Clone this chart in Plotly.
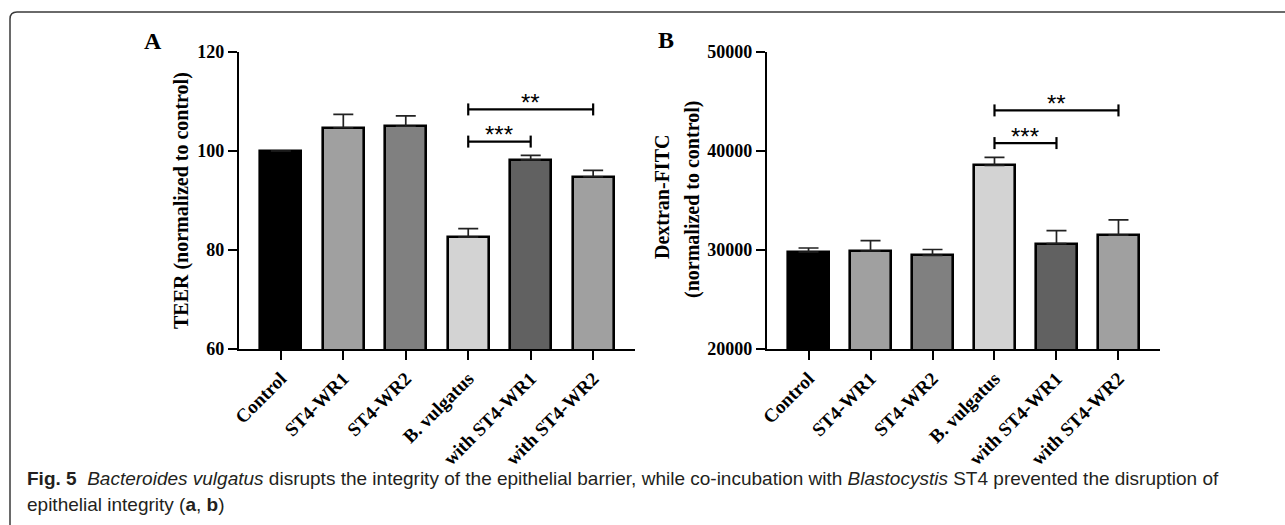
import plotly.graph_objects as go

categories = ["Control", "ST4-WR1", "ST4-WR2", "B. vulgatus", "with ST4-WR1", "with ST4-WR2"]
teer_mean = [100.0, 104.7, 105.0, 82.6, 98.2, 94.8]
teer_err = [0.0, 2.7, 2.1, 1.7, 0.9, 1.3]
fitc_mean = [29800, 29900, 29450, 38550, 30650, 31500]
fitc_err = [400, 1050, 600, 800, 1300, 1550]
bar_colors = ["#000000", "#a0a0a0", "#808080", "#d3d3d3", "#616161", "#a0a0a0"]
teer_ticks = [60, 80, 100, 120]
fitc_ticks = [20000, 30000, 40000, 50000]
teer_sig = [(3, 4, 101.9, "***"), (3, 5, 108.4, "**")]
fitc_sig = [(3, 4, 40800, "***"), (3, 5, 44100, "**")]

W, H = 1285, 525
SERIF = "Liberation Serif, Times New Roman, serif"
CAPFONT = "Liberation Sans Narrow, Arial Narrow, Liberation Sans, sans-serif"

def px_x(p):
    return p / W

def px_y(p):
    return 1 - p / H

xpos = list(range(len(categories)))

fig = go.Figure()

panels = [
    ("x", "y", teer_mean, teer_err),
    ("x2", "y2", fitc_mean, fitc_err),
]
for xa, ya, means, errs in panels:
    fig.add_trace(go.Bar(
        x=xpos, y=means, xaxis=xa, yaxis=ya,
        width=0.66,
        marker=dict(color=bar_colors, line=dict(color="#000000", width=2.6)),
        error_y=dict(type="data", array=errs, arrayminus=[0] * len(errs), symmetric=False,
                     color="#222222", thickness=1.7, width=10),
        showlegend=False,
    ))

xrange = [-0.67, len(categories) - 1 + 0.67]
common_x = dict(range=xrange, tickvals=xpos, ticktext=[f"<b>{c}</b>" for c in categories],
                tickangle=-45, automargin=False,
                showline=True, linecolor="#000000", linewidth=2.2,
                ticks="outside", ticklen=9, tickwidth=2.2, tickcolor="#000000",
                showgrid=False, zeroline=False,
                tickfont=dict(family=SERIF, size=19, color="#000000"))
common_y = dict(showline=True, linecolor="#000000", linewidth=2.2, automargin=False,
                ticks="outside", ticklen=9, tickwidth=2.2, tickcolor="#000000",
                showgrid=False, zeroline=False,
                tickfont=dict(family=SERIF, size=18, color="#000000"))

yd = [px_y(349), px_y(52)]
fig.update_layout(
    width=W, height=H,
    margin=dict(l=0, r=0, t=0, b=0, pad=0, autoexpand=False),
    paper_bgcolor="white", plot_bgcolor="white",
    bargap=0,
    xaxis=dict(domain=[px_x(239), px_x(635)], anchor="y", **common_x),
    yaxis=dict(domain=yd, anchor="x", range=[teer_ticks[0], teer_ticks[-1]],
               tickvals=teer_ticks, ticktext=[f"<b>{v}</b>" for v in teer_ticks], **common_y),
    xaxis2=dict(domain=[px_x(767), px_x(1160)], anchor="y2", **common_x),
    yaxis2=dict(domain=yd, anchor="x2", range=[fitc_ticks[0], fitc_ticks[-1]],
                tickvals=fitc_ticks, ticktext=[f"<b>{v}</b>" for v in fitc_ticks], **common_y),
)

shapes = []
annotations = []
for xr, yr, sig in [("x", "y", teer_sig), ("x2", "y2", fitc_sig)]:
    for i0, i1, level, label in sig:
        shapes.append(dict(type="line", xref=xr, yref=yr, x0=i0, x1=i1, y0=level, y1=level,
                           line=dict(color="#000000", width=2.2)))
        for xi in (i0, i1):
            shapes.append(dict(type="line", xref=xr, yref=yr, x0=xi, x1=xi,
                               ysizemode="pixel", yanchor=level, y0=-6, y1=6,
                               line=dict(color="#000000", width=2.2)))
        annotations.append(dict(x=(i0 + i1) / 2, y=level, xref=xr, yref=yr, text=label,
                                showarrow=False, xanchor="center", yanchor="middle", yshift=7,
                                font=dict(family="Liberation Sans, Arial, sans-serif",
                                          size=24, color="#000000")))

# frame
shapes.append(dict(type="path", xref="paper", yref="paper",
                   path=f"M {px_x(10)},{px_y(525)} L {px_x(10)},{px_y(19)} "
                        f"Q {px_x(10)},{px_y(12)} {px_x(17)},{px_y(12)} L {px_x(1285)},{px_y(12)}",
                   line=dict(color="#3a3a3a", width=1.5)))

def pann(x, y, text, size, **kw):
    d = dict(x=px_x(x), y=px_y(y), xref="paper", yref="paper", text=text, showarrow=False,
             xanchor="center", yanchor="middle",
             font=dict(family=SERIF, size=size, color="#000000"))
    d.update(kw)
    return d

# panel letters
annotations.append(pann(153, 41, "<b>A</b>", 24))
annotations.append(pann(666, 40, "<b>B</b>", 24))
# axis titles
annotations.append(pann(182, 201, "<b>TEER (normalized to control)</b>", 20, textangle=-90))
annotations.append(pann(662, 197, "<b>Dextran-FITC</b>", 20, textangle=-90))
annotations.append(pann(692, 200, "<b>(normalized to control)</b>", 20, textangle=-90))
# caption
capfont = dict(family=CAPFONT, size=19, color="#231f20")
annotations.append(pann(25, 478,
                        "<b>Fig. 5</b>  <i>Bacteroides vulgatus</i> disrupts the integrity of the epithelial "
                        "barrier, while co-incubation with <i>Blastocystis</i> ST4 prevented the disruption of",
                        18, xanchor="left", font=capfont))
annotations.append(pann(25, 504, "epithelial integrity (<b>a</b>, <b>b</b>)", 18,
                        xanchor="left", font=capfont))

fig.update_layout(shapes=shapes, annotations=annotations)
fig.write_html("out.html")
